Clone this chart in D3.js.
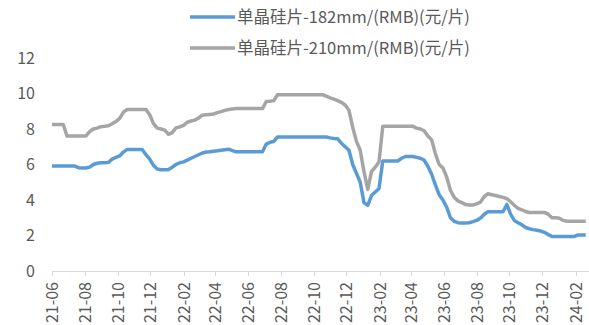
<!DOCTYPE html>
<html><head><meta charset="utf-8">
<script src="https://cdn.jsdelivr.net/npm/d3@7"></script>
<style>body{margin:0;background:#fff}svg{display:block}text{font-family:"Noto Sans CJK SC","Open Sans",sans-serif;fill:#595959}</style>
</head><body><svg id="c" width="589" height="325"></svg>
<script>
const seriesNames = ["单晶硅片-182mm/(RMB)(元/片)", "单晶硅片-210mm/(RMB)(元/片)"];
const startDate = "2021-06-01";
const yTicks = [0, 2, 4, 6, 8, 10, 12];
const xTickLabels = ["21-06","21-08","21-10","21-12","22-02","22-04","22-06","22-08","22-10","22-12","23-02","23-04","23-06","23-08","23-10","23-12","24-02"];
const s182 = [5.92,5.92,5.92,5.92,5.92,5.92,5.92,5.82,5.8,5.8,5.85,6.0,6.07,6.1,6.1,6.12,6.3,6.4,6.48,6.7,
6.85,6.85,6.85,6.85,6.85,6.55,6.3,5.95,5.75,5.7,5.7,5.72,5.85,6.0,6.1,6.15,6.25,6.35,6.45,6.55,
6.65,6.7,6.72,6.75,6.77,6.8,6.83,6.86,6.78,6.72,6.72,6.72,6.72,6.72,6.72,6.72,6.72,7.15,7.25,7.3,
7.55,7.55,7.55,7.55,7.55,7.55,7.55,7.55,7.55,7.55,7.55,7.55,7.55,7.55,7.5,7.47,7.45,7.2,7.0,6.8,
6.0,5.5,5.0,3.85,3.7,4.25,4.45,4.65,6.2,6.2,6.2,6.2,6.2,6.35,6.45,6.45,6.45,6.4,6.35,6.25,
5.9,5.45,4.85,4.3,4.0,3.6,3.0,2.8,2.72,2.7,2.7,2.72,2.78,2.85,2.98,3.2,3.34,3.34,3.34,3.34,
3.34,3.75,3.2,2.85,2.72,2.6,2.45,2.38,2.33,2.3,2.25,2.18,2.05,1.95,1.95,1.95,1.95,1.95,1.95,1.95,
2.03,2.03,2.03];
const s210 = [8.25,8.25,8.25,8.25,7.6,7.6,7.6,7.6,7.6,7.6,7.85,8.0,8.05,8.13,8.15,8.18,8.3,8.42,8.6,8.95,
9.1,9.1,9.1,9.1,9.1,9.1,8.8,8.3,8.05,8.0,7.94,7.7,7.8,8.06,8.12,8.2,8.38,8.45,8.5,8.62,
8.78,8.8,8.82,8.84,8.92,8.98,9.05,9.1,9.13,9.15,9.15,9.15,9.15,9.15,9.15,9.15,9.15,9.55,9.56,9.6,
9.93,9.93,9.93,9.93,9.93,9.93,9.93,9.93,9.93,9.93,9.93,9.93,9.93,9.85,9.75,9.68,9.6,9.5,9.35,9.05,
8.1,7.3,6.8,5.6,4.6,5.6,5.85,6.15,8.15,8.15,8.15,8.15,8.15,8.15,8.15,8.15,8.15,8.05,8.0,7.9,
7.6,7.4,6.6,6.0,5.8,5.3,4.55,4.15,3.95,3.85,3.75,3.72,3.72,3.78,3.88,4.2,4.35,4.3,4.25,4.2,
4.15,4.08,3.9,3.7,3.53,3.45,3.35,3.3,3.3,3.3,3.3,3.3,3.2,3.0,3.0,2.97,2.85,2.8,2.8,2.8,
2.8,2.8,2.8];
const colors = ["#5B9BD5", "#A5A5A5"];

const parse = d3.timeParse("%Y-%m-%d");
const t0 = parse(startDate);
const dates = s182.map((_, i) => d3.timeDay.offset(t0, 7 * i));
const svg = d3.select("#c");
const x = d3.scaleTime().domain([t0, parse("2024-02-27")]).range([52, 589.5]);
const y = d3.scaleLinear().domain([0, 12]).range([271, 58]);

// y axis labels
svg.append("g").selectAll("text").data(yTicks).join("text")
  .attr("x", 35).attr("y", d => y(d)).attr("dy", "0.35em")
  .attr("text-anchor", "end").style("font-size", "16px").text(d => d);

// x axis
const tickDates = xTickLabels.map(s => parse("20" + s + "-01"));
const xa = svg.append("g");
xa.append("line").attr("x1", 52).attr("x2", 589).attr("y1", 271.5).attr("y2", 271.5)
  .attr("stroke", "#d9d9d9").attr("stroke-width", 1);
xa.selectAll("line.t").data(tickDates).join("line").attr("class", "t")
  .attr("x1", d => Math.round(x(d)) + 0.5).attr("x2", d => Math.round(x(d)) + 0.5)
  .attr("y1", 271).attr("y2", 276).attr("stroke", "#d9d9d9");
xa.selectAll("text").data(tickDates).join("text")
  .attr("transform", d => `translate(${x(d) + 6},282) rotate(-90)`)
  .attr("text-anchor", "end").style("font-size", "16px")
  .text((d, i) => xTickLabels[i]);

// lines
const line = d3.line().x((d, i) => x(dates[i])).y(d => y(d));
[s182, s210].slice().reverse().forEach((s, k) => {
  const idx = 1 - k;
  svg.append("path").datum(s).attr("d", line).attr("fill", "none")
    .attr("stroke", colors[idx]).attr("stroke-width", 3.5).attr("stroke-linejoin", "round");
});

// legend
seriesNames.forEach((n, i) => {
  const ly = 17 + i * 31;
  svg.append("line").attr("x1", 190).attr("x2", 235).attr("y1", ly).attr("y2", ly)
    .attr("stroke", colors[i]).attr("stroke-width", 3.5);
  svg.append("text").attr("x", 237).attr("y", ly).attr("dy", "0.35em")
    .style("font-size", "16.5px").text(n);
});
</script></body></html>
